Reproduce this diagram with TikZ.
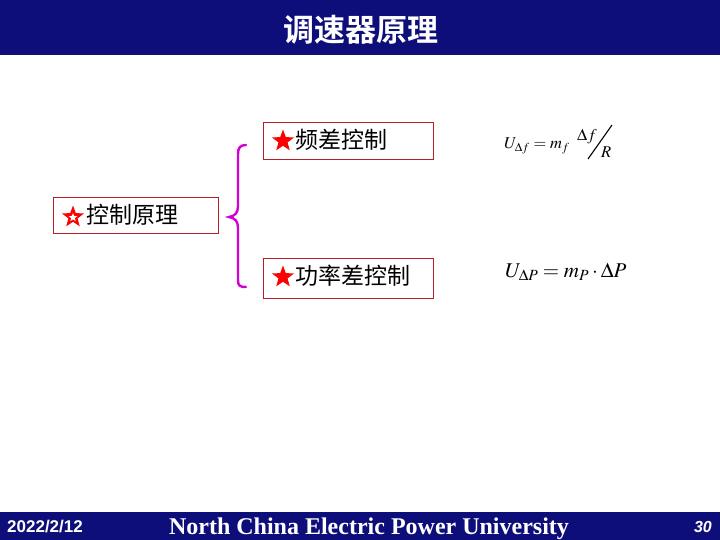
\documentclass[tikz,border=0pt]{standalone}
\usepackage{mathptmx}
\usepackage[no-math]{fontspec}
\setmainfont{Liberation Serif}
\newfontfamily\cjk{Noto Sans CJK SC}
\newfontfamily\cjkb{Noto Sans CJK SC Bold}
\newfontfamily\arialf{Liberation Sans}
\usetikzlibrary{shapes.geometric}
\definecolor{barblue}{RGB}{14,14,122}
\definecolor{boxred}{RGB}{185,30,40}
\definecolor{bracemag}{RGB}{210,0,210}
\tikzset{
  x=1pt,y=-1pt,
  box/.style={draw=boxred,line width=0.9pt,fill=white},
  starf/.style={star,star points=5,star point ratio=2.4,fill=red,draw=none,minimum size=23pt,inner sep=0pt},
  cjktext/.style={font=\cjk\fontsize{23}{26}\selectfont,anchor=west,inner sep=0pt},
  fml/.style={anchor=base west,inner sep=0pt,font=\fontsize{16.5}{19}\selectfont},
}
\begin{document}
\begin{tikzpicture}
\useasboundingbox (0,0) rectangle (720,540);
% bars
\fill[barblue] (0,0) rectangle (720,55);
\fill[barblue] (0,512) rectangle (720,540);
\node[text=white,font=\cjkb\fontsize{31}{34}\selectfont] (title) at (361,30) {调速器原理};
\node[text=white,font=\arialf\bfseries\fontsize{17}{20}\selectfont,anchor=west,inner sep=0pt] (date) at (7,527) {2022/2/12};
\node[text=white,font=\bfseries\fontsize{24}{28}\selectfont,anchor=base] (univ) at (369,534) {North China Electric Power University};
\node[text=white,font=\arialf\bfseries\itshape\fontsize{16}{18}\selectfont,anchor=east,inner sep=0pt] (page) at (712,527) {30};
% boxes
\draw[box] (53,197) rectangle (218,233);
\draw[box] (263,122) rectangle (433,159);
\draw[box] (263,258) rectangle (433,298);
% stars
\node[starf] (s1) at (73,217) {};
\node[star,star points=5,star point ratio=2.4,fill=white,minimum size=9pt,inner sep=0pt] (s1i) at (73,217.5) {};
\node[starf] (s2) at (283,141) {};
\node[starf] (s3) at (283,277) {};
% texts
\node[cjktext] (t1) at (86,215) {控制原理};
\node[cjktext] (t2) at (295,140) {频差控制};
\node[cjktext] (t3) at (295,276) {功率差控制};
% brace
\draw[bracemag,line width=2.4pt,line cap=round]
  (246,145) .. controls (240,145) and (238,148) .. (238,154)
  -- (238,206) .. controls (238,213) and (235,216) .. (229,217)
  .. controls (235,218) and (238,221) .. (238,228)
  -- (238,280) .. controls (238,286) and (240,287) .. (246,287);
% formula 1
\node[fml] (f1) at (504,149) {$U_{\Delta f}=m_{f}$};
\node[fml] (f1n) at (577,141) {$\Delta f$};
\node[fml] (f1d) at (601,158) {$R$};
\coordinate (sl1) at (588,159);
\coordinate (sl2) at (612,125);
\draw[line width=1.1pt] (sl1) -- (sl2);
% formula 2
\node[fml,font=\fontsize{21}{24}\selectfont] (f2) at (505,277)
  {$U_{\Delta P}=m_{P}\cdot\Delta P$};
\end{tikzpicture}
\end{document}
